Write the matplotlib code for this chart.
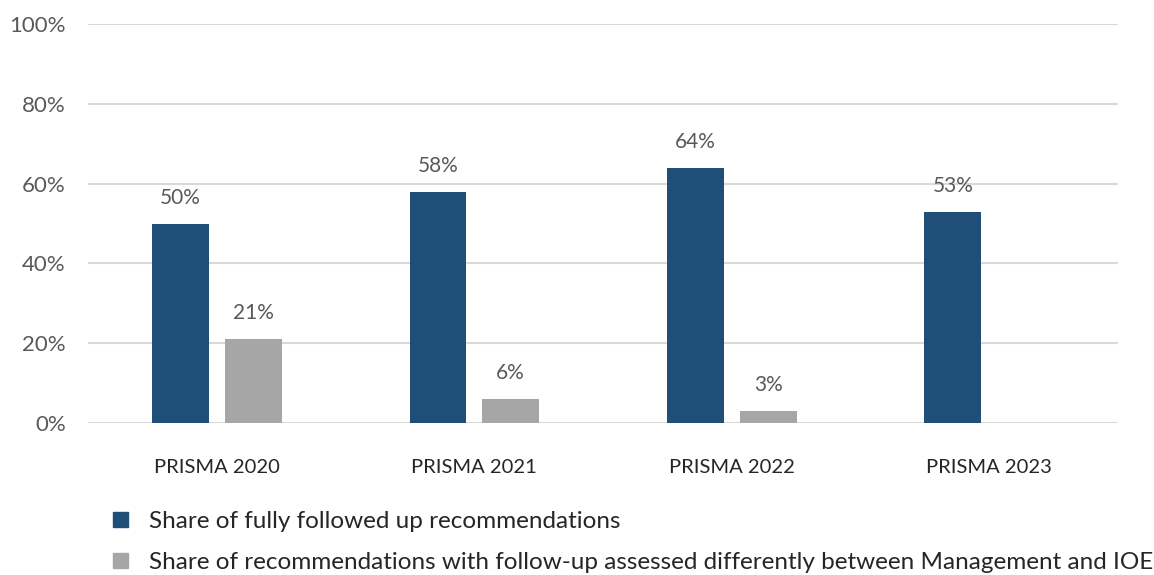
import numpy as np
from matplotlib import pyplot as plt
from matplotlib.patches import Patch

categories = ['PRISMA 2020', 'PRISMA 2021', 'PRISMA 2022', 'PRISMA 2023']
fully_followed = [50, 58, 64, 53]
assessed_diff = [21, 6, 3, np.nan]
series_names = ['Share of fully followed up recommendations',
                'Share of recommendations with follow-up assessed differently between Management and IOE']

blue = '#1F4E79'
gray = '#A6A6A6'
txt = '#595959'

plt.rcParams['font.family'] = ['Lato', 'DejaVu Sans']

fig = plt.figure(figsize=(11.54, 5.75), dpi=100)
ax = fig.add_axes([0.0763, 0.2643, 0.8925, 0.694])

x = np.arange(len(categories))
w = 0.221
off = 0.141
b1 = ax.bar(x - off, fully_followed, w, color=blue, zorder=3)
b2 = ax.bar(x + off, assessed_diff, w, color=gray, zorder=3)

for rects, vals in ((b1, fully_followed), (b2, assessed_diff)):
    for r, v in zip(rects, vals):
        if np.isnan(v):
            continue
        ax.text(r.get_x() + r.get_width() / 2, v + 4, f'{v:.0f}%', ha='center', va='bottom',
                fontsize=15, color=txt)

ax.set_xlim(-0.5, len(categories) - 0.5)
ax.set_ylim(0, 100)
ax.set_yticks(range(0, 101, 20))
ax.set_yticklabels([f'{t}%' for t in range(0, 101, 20)])
ax.set_xticks(x)
ax.set_xticklabels(categories)
ax.tick_params(axis='y', length=0, pad=16, labelsize=16, labelcolor=txt)
ax.tick_params(axis='x', length=0, pad=26, labelsize=14.5, labelcolor='#262626')
ax.grid(axis='y', color='#D9D9D9', linewidth=1.5, zorder=0)
ax.set_axisbelow(True)
for s in ax.spines.values():
    s.set_visible(False)

handles = [Patch(color=blue), Patch(color=gray)]
fig.legend(handles, series_names, loc='upper left', bbox_to_anchor=(0.0895, 0.128),
           frameon=False, fontsize=17.5, handlelength=0.6, handleheight=0.6,
           handletextpad=0.9, labelspacing=0.82, labelcolor='#262626', borderaxespad=0)

fig.savefig('out.png', dpi=100)
